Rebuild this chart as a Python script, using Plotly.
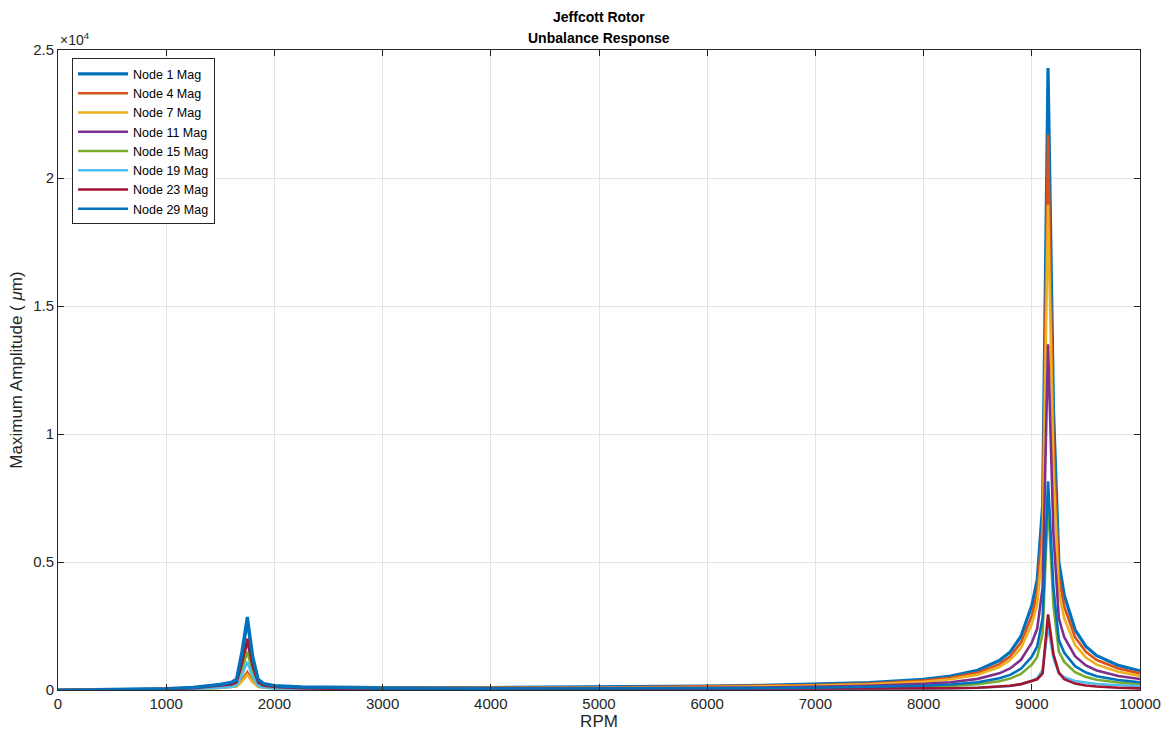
import plotly.graph_objects as go

rpm = [0, 500, 1000, 1250, 1500, 1600, 1650, 1700, 1750, 1800,
       1850, 1900, 2000, 2250, 2500, 3000, 4000, 5000, 6000, 6500,
       7000, 7500, 8000, 8250, 8500, 8700, 8800, 8900, 9000, 9050,
       9100, 9150, 9200, 9250, 9300, 9400, 9500, 9600, 9800, 10000]

node1 = [0, 15, 55, 100, 220, 300, 420, 1500, 2850, 1300,
         420, 250, 170, 120, 100, 90, 95, 115, 150, 180,
         220, 290, 420, 540, 770, 1150, 1480, 2100, 3300, 4300,
         7200, 24300, 11000, 5000, 3700, 2350, 1700, 1340, 960, 750]
node4 = [0, 8, 25, 45, 90, 120, 160, 400, 700, 350,
         150, 100, 80, 70, 70, 75, 85, 100, 135, 160,
         195, 255, 370, 475, 680, 1010, 1310, 1850, 2900, 3800,
         6400, 21700, 9700, 4400, 3250, 2060, 1490, 1170, 840, 650]
node7 = [0, 7, 22, 40, 80, 105, 140, 340, 600, 300,
         130, 90, 70, 62, 62, 66, 75, 88, 118, 140,
         172, 225, 325, 420, 600, 900, 1170, 1640, 2580, 3350,
         5600, 18950, 8500, 3850, 2800, 1760, 1270, 990, 710, 550]
node11 = [0, 10, 40, 70, 150, 210, 290, 1000, 1900, 870,
          280, 170, 110, 70, 55, 50, 55, 65, 85, 100,
          125, 165, 240, 305, 435, 650, 840, 1180, 1850, 2400,
          4000, 13500, 6100, 2800, 2060, 1320, 960, 760, 550, 430]
node15 = [0, 8, 30, 55, 120, 165, 230, 800, 1500, 690,
          225, 135, 85, 50, 40, 33, 32, 35, 45, 52,
          65, 85, 125, 160, 230, 345, 445, 630, 990, 1290,
          2200, 7400, 3300, 1500, 1100, 700, 510, 400, 290, 220]
node19 = [0, 6, 22, 40, 90, 120, 170, 590, 1100, 510,
          165, 100, 60, 35, 28, 22, 20, 20, 22, 25,
          28, 35, 48, 60, 85, 125, 160, 225, 350, 460,
          780, 2500, 1250, 650, 500, 350, 280, 235, 185, 150]
node23 = [0, 10, 40, 75, 160, 220, 300, 1050, 2000, 920,
          300, 180, 115, 70, 55, 45, 40, 38, 40, 42,
          45, 52, 62, 70, 85, 130, 165, 230, 340, 420,
          650, 2950, 1400, 680, 420, 250, 175, 135, 90, 65]
node29 = [0, 12, 50, 90, 200, 275, 385, 1370, 2600, 1190,
          385, 230, 150, 100, 80, 65, 55, 55, 65, 75,
          90, 115, 165, 215, 305, 455, 590, 830, 1300, 1700,
          2800, 8150, 4000, 1950, 1450, 930, 680, 540, 390, 300]

series_names = ["Node 1 Mag", "Node 4 Mag", "Node 7 Mag", "Node 11 Mag",
                "Node 15 Mag", "Node 19 Mag", "Node 23 Mag", "Node 29 Mag"]
series_values = [node1, node4, node7, node11, node15, node19, node23, node29]
colors = ["#0072BD", "#D95319", "#EDB120", "#7E2F8E",
          "#77AC30", "#4DBEEE", "#A2142F", "#0072BD"]
widths = [3.2, 2.6, 2.6, 2.6, 2.6, 2.6, 2.6, 2.6]

x_ticks = [0, 1000, 2000, 3000, 4000, 5000, 6000, 7000, 8000, 9000, 10000]
x_tick_text = ["0", "1000", "2000", "3000", "4000", "5000", "6000", "7000",
               "8000", "9000", "10000"]
y_ticks = [0, 5000, 10000, 15000, 20000, 25000]
y_tick_text = ["0", "0.5", "1", "1.5", "2", "2.5"]

FONT = "Liberation Sans, Arial, sans-serif"
AX = "#262626"

fig = go.Figure()
for name, vals, c, w in zip(series_names, series_values, colors, widths):
    fig.add_trace(go.Scatter(x=rpm, y=vals, mode="lines", name=name,
                             line=dict(color=c, width=w)))

axis_common = dict(showline=True, linecolor=AX, linewidth=1, mirror="ticks",
                   ticks="inside", ticklen=6, tickcolor=AX, tickwidth=1,
                   showgrid=True, gridcolor="#e4e4e4", gridwidth=1,
                   zeroline=False, automargin=False,
                   tickfont=dict(family=FONT, size=15, color=AX))

fig.update_xaxes(range=[0, 10000], tickvals=x_ticks, ticktext=x_tick_text,
                 title=dict(text="RPM", font=dict(family=FONT, size=17, color=AX), standoff=2),
                 **axis_common)
fig.update_yaxes(range=[0, 25000], tickvals=y_ticks, ticktext=y_tick_text,
                 title=dict(text="Maximum Amplitude ( <i>μ</i>m)",
                            font=dict(family=FONT, size=17, color=AX), standoff=6),
                 **axis_common)

fig.update_layout(
    width=1170, height=736,
    margin=dict(l=58, r=30, t=50, b=46, autoexpand=False),
    paper_bgcolor="white", plot_bgcolor="white",
    legend=dict(x=0.013, y=0.987, xanchor="left", yanchor="top",
                bgcolor="white", bordercolor=AX, borderwidth=1,
                font=dict(family=FONT, size=12.5, color="black"),
                itemwidth=50, tracegroupgap=0),
    showlegend=True,
    annotations=[
        dict(text="<b>Jeffcott Rotor</b>", xref="paper", yref="paper",
             x=0.5, y=1.0, xanchor="center", yanchor="middle", yshift=33,
             showarrow=False, font=dict(family=FONT, size=14, color="black")),
        dict(text="<b>Unbalance Response</b>", xref="paper", yref="paper",
             x=0.5, y=1.0, xanchor="center", yanchor="middle", yshift=12,
             showarrow=False, font=dict(family=FONT, size=14, color="black")),
        dict(text="×10<sup>4</sup>", xref="paper", yref="paper",
             x=0.0, y=1.0, xanchor="left", yanchor="bottom", yshift=0,
             showarrow=False, font=dict(family=FONT, size=14, color=AX)),
    ],
)

fig.write_html("out.html")
